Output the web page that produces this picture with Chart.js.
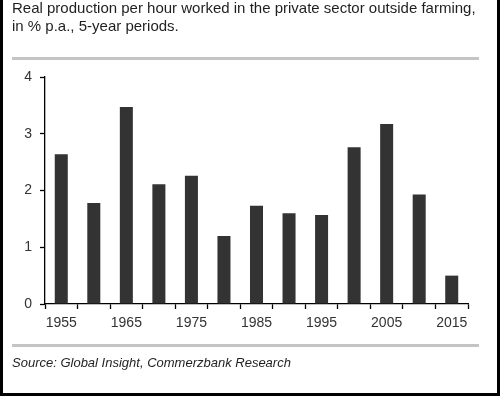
<!DOCTYPE html>
<html>
<head>
<meta charset="utf-8">
<script src="https://cdn.jsdelivr.net/npm/chart.js@4"></script>
<style>
    body { margin: 0; background: #fff; }
    #frame {
        position: relative; width: 500px; height: 396px; box-sizing: border-box;
        border-left: 3px solid #000; border-right: 3px solid #000; border-bottom: 3px solid #000;
        font-family: "Liberation Sans", Arial, sans-serif; overflow: hidden;
    }
    #chart { position: absolute; left: -3px; top: 0; }
    .title { position: absolute; left: 9px; top: -1px; font-size: 15px; line-height: 18px; color: #1f1f1f; white-space: nowrap; }
    .rule { position: absolute; left: 9px; width: 467px; height: 3px; background: #c4c4c4; }
    .source { position: absolute; left: 9px; top: 355px; font-size: 13px; font-style: italic; color: #1f1f1f; }
</style>
</head>
<body>
<div id="frame">
    <canvas id="chart" width="500" height="396"></canvas>
    <div class="title">Real production per hour worked in the private sector outside farming,<br>in % p.a., 5-year periods.</div>
    <div class="rule" style="top:57px"></div>
    <div class="rule" style="top:344px"></div>
    <div class="source">Source: Global Insight, Commerzbank Research</div>
</div>
<script>
// 5-year periods
const years = ['1955', '1960', '1965', '1970', '1975', '1980', '1985', '1990', '1995', '2000', '2005', '2010', '2015'];
// % p.a.
const growth = [2.64, 1.78, 3.47, 2.11, 2.26, 1.20, 1.73, 1.60, 1.57, 2.76, 3.17, 1.93, 0.50];
const yTicks = [0, 1, 2, 3, 4];

const tickFont = { family: '"Liberation Sans", Arial, sans-serif', size: 14 };

new Chart(document.getElementById('chart'), {
    type: 'bar',
    data: {
        labels: years,
        datasets: [{
            data: growth,
            backgroundColor: '#333333',
            borderWidth: 0,
            categoryPercentage: 1,
            barPercentage: 0.4
        }]
    },
    options: {
        responsive: false,
        animation: false,
        layout: { padding: { left: 0, top: 77, right: 32, bottom: 62 } },
        plugins: { legend: { display: false }, tooltip: { enabled: false } },
        scales: {
            x: {
                afterFit: s => { s.height = 30; },
                border: { color: '#000', width: 1.3 },
                grid: { offset: true, drawOnChartArea: false, tickLength: 5, color: '#000', tickWidth: 1.3 },
                ticks: {
                    autoSkip: false, maxRotation: 0, padding: 6, color: '#333', font: tickFont,
                    callback: (v, i) => (i % 2 === 0 ? years[i] : '')
                }
            },
            y: {
                min: yTicks[0],
                max: yTicks[yTicks.length - 1],
                afterFit: s => { s.width = 45; },
                afterBuildTicks: s => { s.ticks = yTicks.map(v => ({ value: v })); },
                border: { color: '#000', width: 1.3 },
                grid: { drawOnChartArea: false, tickLength: 5, color: '#000', tickWidth: 1.3 },
                ticks: { padding: 8, color: '#333', font: tickFont }
            }
        }
    }
});
</script>
</body>
</html>
